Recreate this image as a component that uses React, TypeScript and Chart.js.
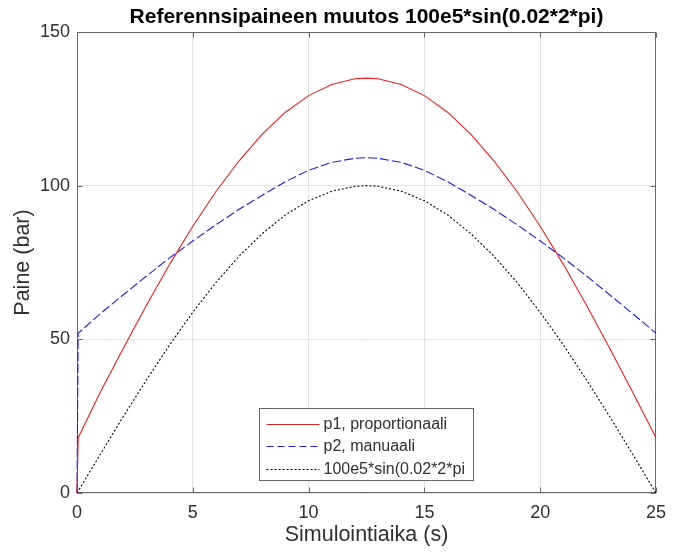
import React, { useEffect, useRef } from "react";
import { Chart, registerables } from "chart.js";

Chart.register(...registerables);

const TITLE = "Referennsipaineen muutos 100e5*sin(0.02*2*pi)";
const X_LABEL = "Simulointiaika (s)";
const Y_LABEL = "Paine (bar)";

// Simulation time (s)
const timeS = [0, 0.05, 1, 2, 3, 4, 5, 6, 7, 8, 9, 10, 11, 12, 12.5, 13, 14, 15, 16, 17, 18, 19, 20, 21, 22, 23, 24, 25];
// p1, proportional controller (bar)
const p1 = [0, 18, 32.7, 47.1, 61.1, 74.4, 86.8, 98.1, 108.1, 116.8, 123.9, 129.3, 132.9, 134.8, 135.0, 134.8, 132.9, 129.3, 123.9, 116.8, 108.1, 98.1, 86.8, 74.4, 61.1, 47.1, 32.7, 18];
// p2, manual (bar)
const p2 = [0, 52, 58.3, 64.5, 70.6, 76.5, 82.0, 87.3, 92.3, 96.9, 101.3, 105.0, 107.6, 108.9, 109.1, 108.9, 107.6, 105.0, 101.3, 96.9, 92.3, 87.3, 82.0, 76.5, 70.6, 64.5, 58.3, 52];
// reference pressure (bar)
const reference = [0, 0.6, 12.5, 24.9, 36.8, 48.2, 58.8, 68.5, 77.1, 84.4, 90.5, 95.1, 98.2, 99.8, 100, 99.8, 98.2, 95.1, 90.5, 84.4, 77.1, 68.5, 58.8, 48.2, 36.8, 24.9, 12.5, 0];

const seriesNames = ["p1, proportionaali", "p2, manuaali", "100e5*sin(0.02*2*pi"];
const xTicks = [0, 5, 10, 15, 20, 25];
const yTicks = [0, 50, 100, 150];

const FONT = '"Liberation Sans", Arial, Helvetica, sans-serif';
const AXIS_COLOR = "#666666";
const TEXT_COLOR = "#303030";
const GRID_COLOR = "#e2e2e2";

const RED = "rgb(235, 30, 30)";
const BLUE = "rgb(30, 30, 215)";
const BLACK = "#000000";

const toPoints = (ys: number[]) => timeS.map((x, i) => ({ x, y: ys[i] }));

const styles = [
  { color: RED, dash: [] as number[] },
  { color: BLUE, dash: [9, 3] },
  { color: BLACK, dash: [2, 2] },
];

// Axes box with inward tick marks, drawn beneath the curves
const framePlugin = {
  id: "frame",
  beforeDatasetsDraw(chart: any) {
    const { ctx, chartArea: a, scales } = chart;
    ctx.save();
    ctx.strokeStyle = AXIS_COLOR;
    ctx.lineWidth = 1;
    const L = Math.round(a.left) + 0.5;
    const R = Math.round(a.right) - 0.5;
    const T = Math.round(a.top) + 0.5;
    const B = Math.round(a.bottom) - 0.5;
    ctx.strokeRect(L, T, R - L, B - T);
    const len = 5;
    ctx.beginPath();
    for (const v of xTicks) {
      const px = Math.round(scales.x.getPixelForValue(v)) + 0.5;
      ctx.moveTo(px, B);
      ctx.lineTo(px, B - len);
      ctx.moveTo(px, T);
      ctx.lineTo(px, T + len);
    }
    for (const v of yTicks) {
      const py = Math.round(scales.y.getPixelForValue(v)) + 0.5;
      ctx.moveTo(L, py);
      ctx.lineTo(L + len, py);
      ctx.moveTo(R, py);
      ctx.lineTo(R - len, py);
    }
    ctx.stroke();
    ctx.restore();
  },
  afterDatasetsDraw(chart: any) {
    const { ctx, chartArea: a } = chart;
    // legend box, south location
    const cx = (a.left + a.right) / 2;
    const w = 214;
    const left = Math.round(cx - w / 2) + 0.5;
    const top = Math.round(a.bottom - 85) + 0.5;
    const bottom = Math.round(a.bottom - 13) + 0.5;
    ctx.save();
    ctx.fillStyle = "#ffffff";
    ctx.fillRect(left, top, w, bottom - top);
    ctx.strokeStyle = AXIS_COLOR;
    ctx.lineWidth = 1;
    ctx.strokeRect(left, top, w, bottom - top);
    const rows = [15, 37.5, 60];
    ctx.font = `16px ${FONT}`;
    ctx.textBaseline = "middle";
    ctx.textAlign = "left";
    seriesNames.forEach((name, i) => {
      const y = Math.round(top + rows[i]) + 0.5;
      ctx.strokeStyle = styles[i].color;
      ctx.setLineDash(i === 1 ? [7, 4] : styles[i].dash);
      ctx.beginPath();
      ctx.moveTo(left + 7, y);
      ctx.lineTo(left + 60, y);
      ctx.stroke();
      ctx.setLineDash([]);
      ctx.fillStyle = TEXT_COLOR;
      ctx.fillText(name, left + 64, y);
    });
    ctx.restore();
  },
  afterDraw(chart: any) {
    const { ctx, chartArea: a } = chart;
    ctx.save();
    ctx.font = `bold 21px ${FONT}`;
    ctx.fillStyle = "#000000";
    ctx.textAlign = "center";
    ctx.textBaseline = "middle";
    ctx.fillText(TITLE, (a.left + a.right) / 2, 17);
    ctx.restore();
  },
};

export default function App() {
  const canvasRef = useRef<HTMLCanvasElement | null>(null);

  useEffect(() => {
    document.body.style.margin = "0";
    const canvas = canvasRef.current;
    if (!canvas) return;
    const series = [p1, p2, reference];
    const chart = new Chart(canvas, {
      type: "line",
      data: {
        datasets: series.map((ys, i) => ({
          label: seriesNames[i],
          data: toPoints(ys),
          borderColor: styles[i].color,
          borderDash: styles[i].dash,
          borderWidth: 1.1,
          pointRadius: 0,
          tension: 0,
          fill: false,
          clip: false as any,
        })),
      },
      options: {
        animation: false,
        responsive: false,
        devicePixelRatio: 1,
        events: [],
        layout: { padding: { top: 32, right: 11, bottom: 0, left: 0 } },
        plugins: {
          legend: { display: false },
          tooltip: { enabled: false },
          title: { display: false },
        },
        scales: {
          x: {
            type: "linear",
            min: 0,
            max: 25,
            afterBuildTicks: (s: any) => {
              s.ticks = xTicks.map((v) => ({ value: v }));
            },
            ticks: {
              color: TEXT_COLOR,
              font: { family: FONT, size: 18 },
              padding: 9,
              maxRotation: 0,
              autoSkip: false,
            },
            grid: { color: GRID_COLOR, drawTicks: false, lineWidth: 1 },
            border: { display: false },
            title: {
              display: true,
              text: X_LABEL,
              color: TEXT_COLOR,
              font: { family: FONT, size: 21.5 },
              padding: { top: 0, bottom: 6 },
            },
            afterFit: (s: any) => {
              s.height = 61;
            },
          },
          y: {
            type: "linear",
            min: 0,
            max: 150,
            afterBuildTicks: (s: any) => {
              s.ticks = yTicks.map((v) => ({ value: v }));
            },
            ticks: {
              color: TEXT_COLOR,
              font: { family: FONT, size: 18 },
              padding: 7,
            },
            grid: { color: GRID_COLOR, drawTicks: false, lineWidth: 1 },
            border: { display: false },
            title: {
              display: true,
              text: Y_LABEL,
              color: TEXT_COLOR,
              font: { family: FONT, size: 21.5 },
              padding: { top: 10, bottom: 0 },
            },
            afterFit: (s: any) => {
              s.width = 77;
            },
          },
        },
      },
      plugins: [framePlugin],
    });
    return () => chart.destroy();
  }, []);

  return (
    <canvas
      ref={canvasRef}
      width={675}
      height={554}
      style={{ display: "block", width: 675, height: 554 }}
    />
  );
}
